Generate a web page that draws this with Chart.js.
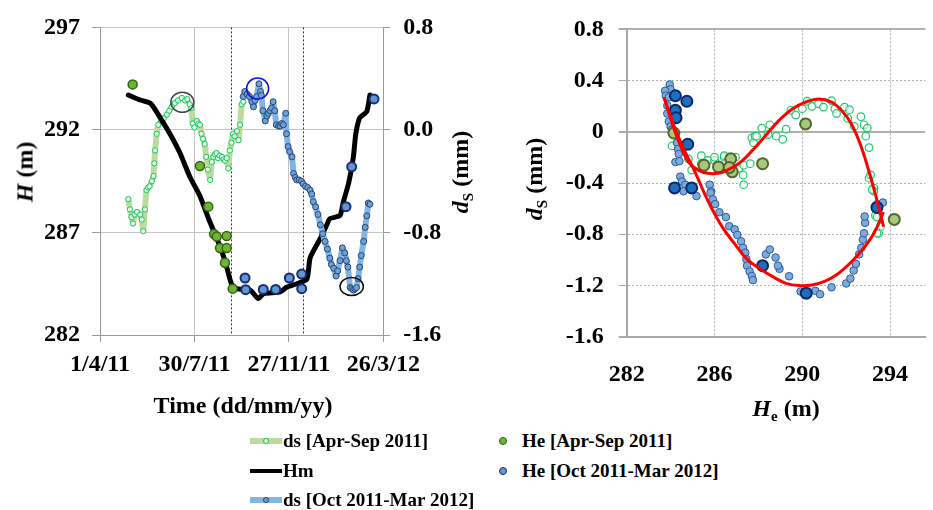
<!DOCTYPE html>
<html>
<head>
<meta charset="utf-8">
<script src="https://cdn.jsdelivr.net/npm/chart.js@4.4.1/dist/chart.umd.min.js"></script>
<style>
  body { margin:0; background:#fff; width:933px; height:510px; overflow:hidden; position:relative;
         font-family:'Liberation Serif','Times New Roman',serif; font-weight:bold; color:#000; }
  canvas { position:absolute; top:0; }
  #left { left:0; }
  #right { left:470px; }
  .t { position:absolute; font-size:24px; white-space:nowrap; }
  .rot { transform:translate(-50%,-50%) rotate(-90deg); }
  .hor { transform:translate(-50%,-50%); }
  .t sub { font-size:62%; font-weight:bold; vertical-align:-0.3em; }
  .lg { position:absolute; font-size:19px; white-space:nowrap; transform:translateY(-50%); }
  .line { position:absolute; width:32px; transform:translateY(-50%); }
  .line i { position:absolute; left:13px; width:4px; height:4px; border:1px solid; border-radius:50%; }
  .dot { position:absolute; width:6px; height:6px; border-radius:50%; border:1.5px solid; transform:translate(-50%,-50%); }
</style>
</head>
<body>
<canvas id="left" width="470" height="420"></canvas>
<canvas id="right" width="463" height="420"></canvas>

<div class="t rot" style="left:25px;top:172px"><i>H</i> (m)</div>
<div class="t rot" style="left:462px;top:172px"><i>d</i><sub>S</sub> (mm)</div>
<div class="t hor" style="left:243px;top:405px">Time (dd/mm/yy)</div>
<div class="t rot" style="left:536px;top:179px"><i>d</i><sub>S</sub> (mm)</div>
<div class="t hor" style="left:786px;top:410px"><i>H</i><sub>e</sub> (m)</div>

<div class="line" style="left:250px;top:441px;height:6px;background:rgb(190,218,158)"><i style="top:0;border-color:rgb(20,190,90);background:#e8ffe8"></i></div>
<div class="lg" style="left:283px;top:441px">ds [Apr-Sep 2011]</div>
<div class="line" style="left:250px;top:471px;height:4px;background:#000"></div>
<div class="lg" style="left:283px;top:471px">Hm</div>
<div class="line" style="left:250px;top:500px;height:6px;background:rgb(130,180,228)"><i style="top:0;border-color:rgb(40,70,120);background:rgb(110,160,210)"></i></div>
<div class="lg" style="left:283px;top:500px">ds [Oct 2011-Mar 2012]</div>
<div class="dot" style="left:503px;top:441px;background:rgb(110,180,50);border-color:rgb(50,100,20)"></div>
<div class="lg" style="left:522px;top:441px">He [Apr-Sep 2011]</div>
<div class="dot" style="left:503px;top:471px;background:rgb(100,150,205);border-color:rgb(20,45,120)"></div>
<div class="lg" style="left:522px;top:471px">He [Oct 2011-Mar 2012]</div>

<script>
// ---- left chart: time series (x = days since 1/4/11)
const tickDays = [0, 120, 240, 360];
const tickLabels = ['1/4/11', '30/7/11', '27/11/11', '26/3/12'];
const hTicks = [282, 287, 292, 297];
const dsTicksLeft = [-1.6, -0.8, 0, 0.8];
const splitDays = [167, 258];

const hmDays = [36, 42, 51, 64, 74, 89, 102, 114, 127, 138, 150, 159, 167, 174, 191, 201, 208, 229, 237, 250, 263, 267, 280, 288, 292, 305, 309, 316, 322, 325, 330, 339, 343];
const hmValues = [293.7, 293.6, 293.46, 293.3, 292.75, 291.8, 290.84, 289.73, 288.78, 287.67, 286.56, 285.6, 284.5, 284.26, 284.18, 283.78, 284.02, 284.1, 284.33, 284.5, 284.73, 285.76, 286.71, 287.35, 287.67, 287.83, 288.46, 289.41, 290.69, 291.8, 292.59, 292.9, 293.7];

const dsAprDays = [36, 38, 40, 42, 44, 47, 51, 53, 55, 57, 59, 61, 63, 66, 68, 69, 70, 72, 74, 78, 81, 85, 88, 91, 95, 99, 104, 108, 111, 114, 116, 118, 120, 123, 125, 127, 129, 131, 133, 135, 137, 140, 142, 144, 146, 148, 150, 152, 155, 157, 159, 161, 163, 165, 167, 169, 171, 174, 176, 178, 180, 182];
const dsAprValues = [-0.54, -0.62, -0.68, -0.73, -0.66, -0.64, -0.66, -0.70, -0.79, -0.62, -0.47, -0.45, -0.44, -0.40, -0.36, -0.26, -0.16, -0.03, 0.04, 0.07, 0.09, 0.12, 0.15, 0.18, 0.21, 0.23, 0.25, 0.23, 0.24, 0.20, 0.17, 0.05, 0.02, 0.07, 0.05, 0.04, -0.03, -0.07, -0.11, -0.21, -0.31, -0.39, -0.25, -0.21, -0.19, -0.18, -0.22, -0.20, -0.21, -0.23, -0.24, -0.22, -0.30, -0.16, -0.10, -0.03, -0.05, -0.01, -0.08, 0.04, 0.20, 0.22];

const dsOctDays = [182, 184, 187, 190, 193, 195, 197, 199, 202, 204, 205, 207, 210, 212, 214, 216, 218, 220, 222, 224, 227, 229, 231, 233, 236, 237, 239, 241, 244, 246, 248, 250, 253, 256, 258, 261, 264, 267, 269, 271, 274, 277, 280, 283, 286, 289, 292, 294, 297, 300, 302, 305, 308, 311, 313, 315, 318, 320, 322, 324, 326, 328, 330, 332, 335, 337, 339, 341, 343];
const dsOctValues = [0.26, 0.30, 0.28, 0.26, 0.22, 0.18, 0.23, 0.26, 0.36, 0.30, 0.27, 0.15, 0.07, 0.11, 0.13, 0.15, 0.17, 0.22, 0.15, 0.04, 0.03, 0.03, 0.05, 0.04, 0.13, -0.03, -0.13, -0.17, -0.21, -0.34, -0.37, -0.39, -0.39, -0.40, -0.42, -0.44, -0.45, -0.47, -0.50, -0.56, -0.60, -0.66, -0.74, -0.81, -0.87, -0.93, -1.00, -1.05, -1.08, -1.14, -1.10, -1.02, -0.92, -0.96, -1.02, -1.07, -1.23, -1.24, -1.25, -1.24, -1.23, -1.16, -1.07, -0.98, -0.87, -0.76, -0.67, -0.57, -0.58];

const heAprDays = [41.5, 127, 137.6, 144.9, 148.3, 152.5, 158.8, 161, 161, 168.6];
const heAprValues = [294.22, 290.24, 288.26, 286.92, 286.8, 286.24, 285.52, 286.83, 286.24, 284.26];
const heOctDays = [184.3, 185.1, 207.5, 223.2, 240.6, 256.3, 256.3, 312.6, 319.8, 348.2];
const heOctValues = [284.78, 284.21, 284.22, 284.22, 284.78, 284.97, 284.26, 288.26, 290.2, 293.51];

const circledDays = [104.6, 200.3, 319.8];
const circledDs = [0.216, 0.323, -1.221];

// ---- right chart: ds against He
const heTicks = [282, 286, 290, 294];
const dsTicksRight = [-1.6, -1.2, -0.8, -0.4, 0, 0.4, 0.8];

const loopUpper = [[283.70,0.269],[284.22,-0.008],[284.52,-0.135],[284.81,-0.236],[285.26,-0.299],[285.70,-0.324],[286.15,-0.324],[286.59,-0.299],[287.19,-0.236],[287.78,-0.135],[288.37,-0.021],[288.96,0.093],[289.56,0.181],[290.15,0.232],[290.74,0.257],[291.33,0.232],[291.78,0.168],[292.22,0.067],[292.67,-0.110],[293.04,-0.312],[293.33,-0.489],[293.56,-0.640],[293.70,-0.741]];
const loopLower = [[283.70,0.269],[284.22,0.017],[284.67,-0.160],[285.11,-0.312],[285.56,-0.489],[286.00,-0.640],[286.44,-0.766],[286.89,-0.868],[287.48,-0.994],[288.07,-1.070],[288.67,-1.133],[289.26,-1.183],[289.85,-1.201],[290.44,-1.196],[291.04,-1.166],[291.63,-1.108],[292.22,-1.019],[292.81,-0.905],[293.26,-0.792],[293.70,-0.628]];

const dsAprVsHe = [[284.07,-0.110],[284.37,-0.110],[284.81,-0.211],[284.96,-0.299],[285.40,-0.249],[285.40,-0.186],[285.70,-0.224],[286.00,-0.224],[286.00,-0.198],[286.44,-0.198],[286.44,-0.186],[286.96,-0.198],[287.11,-0.286],[287.30,-0.337],[287.33,-0.413],[287.33,-0.261],[287.63,-0.249],[287.70,-0.047],[287.78,-0.085],[287.85,-0.034],[287.92,-0.034],[288.15,0.029],[288.52,0.055],[288.44,-0.021],[288.81,-0.034],[289.11,-0.059],[289.26,0.021],[289.48,0.168],[289.70,0.131],[290.00,0.181],[290.22,0.239],[290.44,0.199],[290.74,0.219],[290.96,0.193],[291.33,0.244],[291.48,0.181],[291.56,0.143],[291.92,0.193],[292.15,0.173],[292.07,0.105],[292.37,0.042],[292.67,0.118],[292.81,0.055],[292.96,0.029],[292.89,-0.034],[293.04,-0.123],[293.04,-0.362],[293.11,-0.337],[293.26,-0.438],[293.26,-0.464],[293.18,-0.451],[293.40,-0.565],[293.33,-0.653],[293.40,-0.666],[293.56,-0.741],[293.48,-0.792],[293.40,-0.792]];
const dsOctVsHe = [[283.96,0.370],[284.00,0.332],[283.75,0.320],[283.78,0.282],[283.92,0.269],[283.85,0.206],[283.85,0.143],[283.92,0.080],[284.00,0.042],[284.07,0.017],[284.29,-0.085],[284.34,-0.135],[284.37,-0.173],[284.22,-0.236],[284.40,-0.229],[284.44,-0.350],[284.52,-0.388],[284.67,-0.413],[284.59,-0.464],[285.18,-0.502],[285.78,-0.413],[285.85,-0.464],[285.82,-0.476],[285.92,-0.527],[286.03,-0.565],[286.22,-0.628],[286.52,-0.666],[286.67,-0.737],[286.92,-0.762],[287.04,-0.805],[287.21,-0.855],[287.30,-0.906],[287.40,-0.944],[287.45,-0.995],[287.48,-1.045],[287.60,-1.090],[287.70,-1.126],[287.75,-1.158],[288.34,-0.957],[288.52,-0.919],[288.78,-0.982],[288.96,-1.070],[288.89,-1.045],[289.40,-1.128],[289.92,-1.247],[290.59,-1.242],[290.81,-1.268],[291.33,-1.214],[292.00,-1.184],[292.19,-1.146],[292.34,-1.083],[292.44,-1.032],[292.59,-0.957],[292.69,-0.906],[292.76,-0.843],[292.81,-0.792],[292.86,-0.711],[292.84,-0.661],[293.67,-0.552]];
const heAprVsDs = [[284.15,-0.009],[285.52,-0.261],[286.18,-0.274],[286.74,-0.211],[286.81,-0.312],[286.67,-0.279],[288.19,-0.249],[290.15,0.062],[294.19,-0.684]];
const heOctVsDs = [[284.22,0.282],[284.74,0.239],[284.22,0.168],[284.25,0.110],[284.78,-0.097],[284.18,-0.438],[284.96,-0.438],[288.19,-1.045],[290.18,-1.260],[293.40,-0.590]];

const serif = { family: "Liberation Serif", weight: 'bold', size: 24 };
const xy = (xs, ys) => xs.map((x, i) => ({ x: x, y: ys[i] }));
const pts = arr => arr.map(p => ({ x: p[0], y: p[1] }));
const fixTicks = vals => scale => { scale.ticks = vals.map(v => ({ value: v })); };

// dashed split lines and the circled spots
const leftMarks = {
  id: 'leftMarks',
  beforeDatasetsDraw(chart) {
    const { ctx, chartArea, scales } = chart;
    ctx.save();
    ctx.strokeStyle = '#333';
    ctx.lineWidth = 1;
    ctx.setLineDash([2, 2]);
    splitDays.forEach(d => {
      const x = Math.round(scales.x.getPixelForValue(d)) + 0.5;
      ctx.beginPath();
      ctx.moveTo(x, chartArea.top);
      ctx.lineTo(x, chartArea.bottom);
      ctx.stroke();
    });
    ctx.restore();
  },
  afterDatasetsDraw(chart) {
    const { ctx, scales } = chart;
    const colors = ['#444', '#1010e0', '#111'];
    const radii = [[11.5, 10], [11, 10.5], [11.7, 9]];
    ctx.save();
    ctx.lineWidth = 1.5;
    circledDays.forEach((d, i) => {
      ctx.strokeStyle = colors[i];
      ctx.beginPath();
      ctx.ellipse(scales.x.getPixelForValue(d), scales.yR.getPixelForValue(circledDs[i]), radii[i][0], radii[i][1], 0, 0, Math.PI * 2);
      ctx.stroke();
    });
    ctx.restore();
  }
};

function drawCharts() {
  new Chart(document.getElementById('left'), {
    type: 'line',
    data: {
      datasets: [
        { label: 'He [Oct 2011-Mar 2012]', data: xy(heOctDays, heOctValues), yAxisID: 'y', showLine: false,
          pointRadius: 4.5, pointBackgroundColor: 'rgb(100,150,205)', pointBorderColor: 'rgb(20,45,120)', pointBorderWidth: 2 },
        { label: 'He [Apr-Sep 2011]', data: xy(heAprDays, heAprValues), yAxisID: 'y', showLine: false,
          pointRadius: 4.5, pointBackgroundColor: 'rgb(110,180,50)', pointBorderColor: 'rgb(50,100,20)', pointBorderWidth: 1.5 },
        { label: 'ds [Oct 2011-Mar 2012]', data: xy(dsOctDays, dsOctValues), yAxisID: 'yR',
          borderColor: 'rgb(130,180,228)', borderWidth: 6, tension: 0, borderJoinStyle: 'round', borderCapStyle: 'round',
          pointRadius: 3, pointBackgroundColor: 'rgb(110,160,210)', pointBorderColor: 'rgb(40,70,120)', pointBorderWidth: 1 },
        { label: 'Hm', data: xy(hmDays, hmValues), yAxisID: 'y', borderColor: '#000', borderWidth: 5,
          borderJoinStyle: 'round', borderCapStyle: 'round', pointRadius: 0, tension: 0.2 },
        { label: 'ds [Apr-Sep 2011]', data: xy(dsAprDays, dsAprValues), yAxisID: 'yR',
          borderColor: 'rgb(190,218,158)', borderWidth: 6, tension: 0, borderJoinStyle: 'round', borderCapStyle: 'round',
          pointRadius: 2.6, pointBackgroundColor: 'rgba(235,255,240,0.9)', pointBorderColor: 'rgb(20,200,95)', pointBorderWidth: 1 }
      ]
    },
    options: {
      responsive: false,
      animation: false,
      plugins: { legend: { display: false }, tooltip: { enabled: false } },
      layout: { padding: { top: 21, left: 0, right: 0, bottom: 0 } },
      scales: {
        x: {
          type: 'linear', min: 0, max: 360,
          afterBuildTicks: fixTicks(tickDays),
          afterFit: s => { s.height = 85; },
          ticks: { font: serif, color: '#000', padding: 8, maxRotation: 0, autoSkip: false,
                   callback: v => tickLabels[tickDays.indexOf(v)] },
          grid: { color: '#c4c4c4', tickLength: 7, tickColor: '#999' },
          border: { color: '#999' }
        },
        y: {
          position: 'left', min: 282, max: 297,
          afterBuildTicks: fixTicks(hTicks),
          afterFit: s => { s.width = 100; },
          ticks: { font: serif, color: '#000', padding: 12 },
          grid: { color: '#c4c4c4', tickLength: 8, tickColor: '#999' },
          border: { color: '#999' }
        },
        yR: {
          position: 'right', min: -1.6, max: 0.8,
          afterBuildTicks: fixTicks(dsTicksLeft),
          afterFit: s => { s.width = 86.7; },
          ticks: { font: serif, color: '#000', padding: 13, callback: v => v.toFixed(1) },
          grid: { drawOnChartArea: false, tickLength: 7, tickColor: '#999' },
          border: { color: '#999' }
        }
      }
    },
    plugins: [leftMarks]
  });

  const solidDs = [0, 0.8, -1.6];
  new Chart(document.getElementById('right'), {
    type: 'scatter',
    data: {
      datasets: [
        { label: 'loop upper', data: pts(loopUpper), showLine: true, borderColor: 'rgb(255,0,0)', borderWidth: 3, pointRadius: 0, tension: 0.4 },
        { label: 'loop lower', data: pts(loopLower), showLine: true, borderColor: 'rgb(255,0,0)', borderWidth: 3, pointRadius: 0, tension: 0.4 },
        { label: 'He [Oct 2011-Mar 2012]', data: pts(heOctVsDs), pointRadius: 5.5,
          pointBackgroundColor: 'rgb(30,110,185)', pointBorderColor: 'rgb(10,40,110)', pointBorderWidth: 2 },
        { label: 'He [Apr-Sep 2011]', data: pts(heAprVsDs), pointRadius: 5.5,
          pointBackgroundColor: 'rgb(170,200,125)', pointBorderColor: 'rgb(80,105,40)', pointBorderWidth: 2 },
        { label: 'ds [Oct 2011-Mar 2012]', data: pts(dsOctVsHe), pointRadius: 3.8,
          pointBackgroundColor: 'rgb(125,170,215)', pointBorderColor: 'rgb(40,90,160)', pointBorderWidth: 1 },
        { label: 'ds [Apr-Sep 2011]', data: pts(dsAprVsHe), pointRadius: 3.8,
          pointBackgroundColor: 'rgba(255,255,255,0.6)', pointBorderColor: 'rgb(30,200,110)', pointBorderWidth: 1.2 }
      ]
    },
    options: {
      responsive: false,
      animation: false,
      plugins: { legend: { display: false }, tooltip: { enabled: false } },
      layout: { padding: { top: 20, left: 0, right: 0, bottom: 0 } },
      scales: {
        x: {
          type: 'linear', min: 282, max: 295.6,
          afterBuildTicks: fixTicks(heTicks),
          afterFit: s => { s.height = 83.3; },
          ticks: { font: serif, color: '#000', padding: 24, maxRotation: 0 },
          grid: { drawTicks: false, color: c => (c.tick && c.tick.value === 282) ? '#a8a8a8' : '#b0b0b0',
                  lineWidth: c => (c.tick && c.tick.value === 282) ? 2 : 1 },
          border: { color: '#a8a8a8', width: 2, dash: c => (c.tick && c.tick.value !== 282) ? [2, 2] : [] }
        },
        y: {
          min: -1.6, max: 0.8,
          afterBuildTicks: fixTicks(dsTicksRight),
          afterFit: s => { s.width = 156.7; },
          ticks: { font: serif, color: '#000', padding: 15, callback: v => v === 0 ? '0' : v.toFixed(1) },
          grid: { tickLength: 8, tickColor: '#aaa', color: '#b0b0b0',
                  lineWidth: c => (c.tick && solidDs.includes(c.tick.value)) ? 2 : 1 },
          border: { color: '#a8a8a8', width: 2, dash: c => (c.tick && !solidDs.includes(c.tick.value)) ? [2, 2] : [] }
        }
      }
    }
  });
}

// canvas text needs the serif face loaded before drawing
document.fonts.load('bold 24px "Liberation Serif"').then(drawCharts, drawCharts);
</script>
</body>
</html>
